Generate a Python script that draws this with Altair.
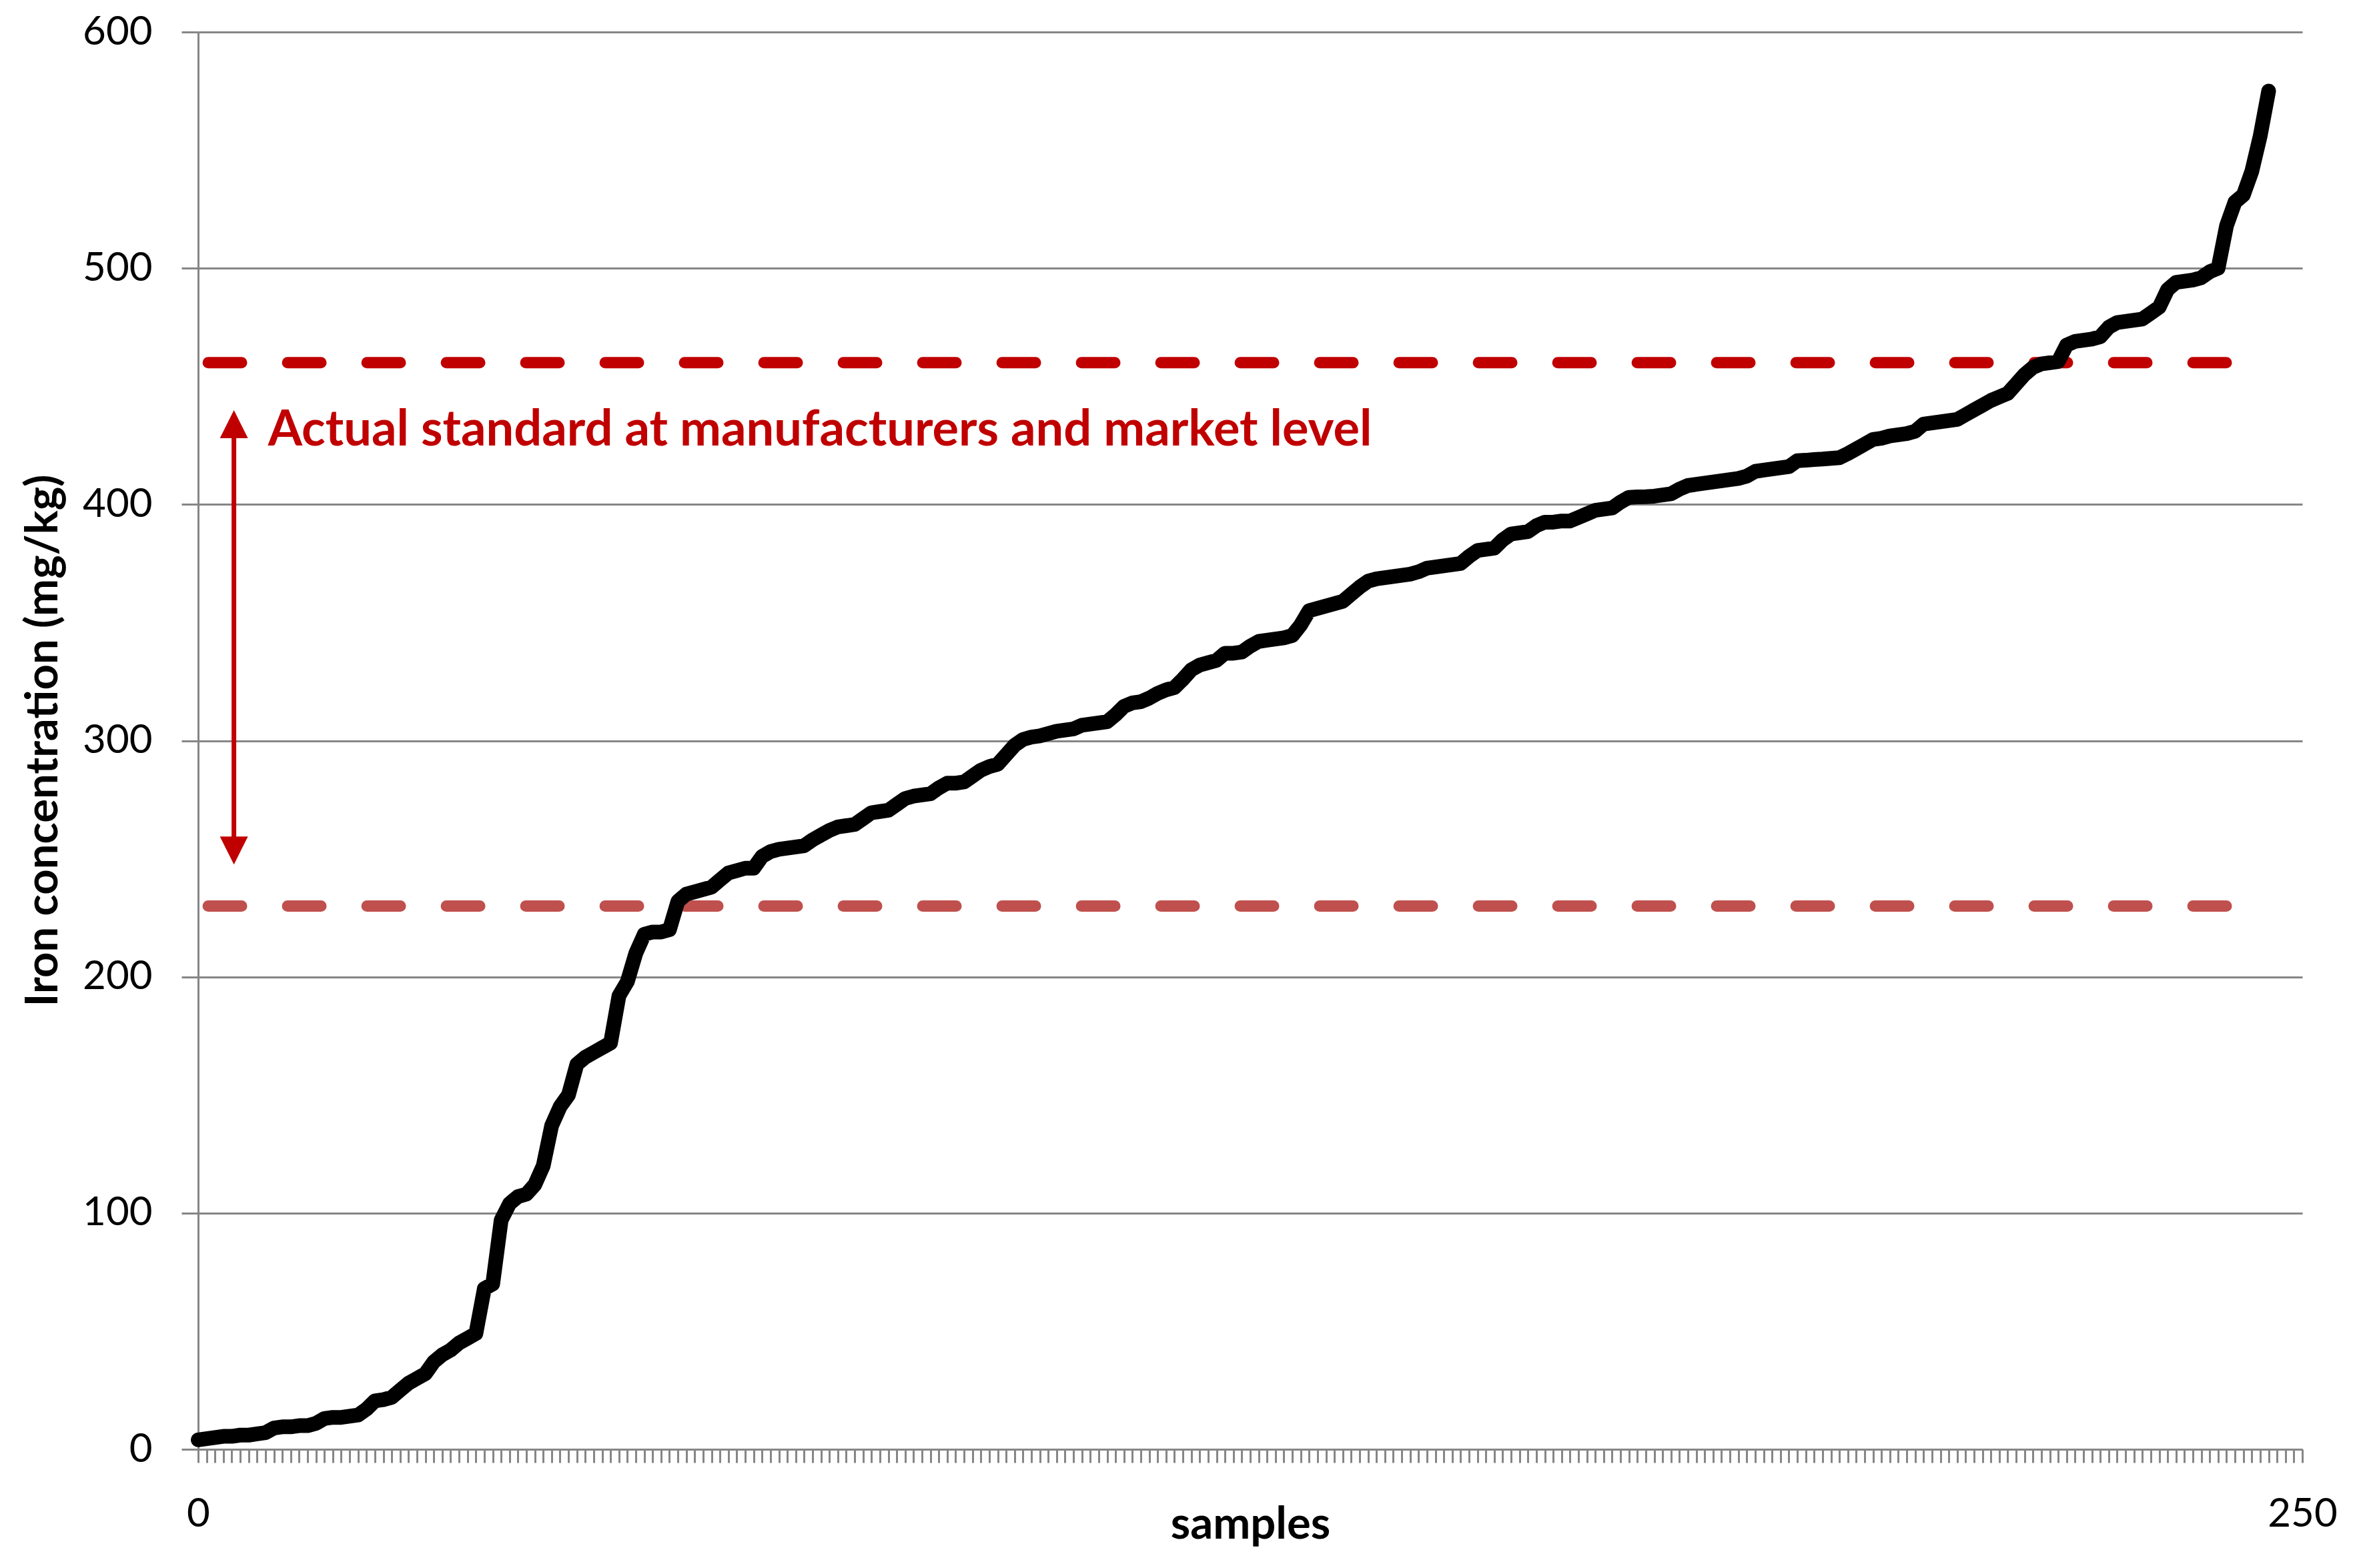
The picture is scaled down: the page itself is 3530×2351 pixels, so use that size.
import altair as alt
import pandas as pd

# ---- data ----
iron_values = [
    4, 4.5, 5, 5.5, 5.5, 6, 6, 6.5, 7, 9,
    9.5, 9.5, 10, 10, 11, 13, 13.5, 13.5, 14, 14.5,
    17, 20.5, 21, 22, 25, 28, 30, 32, 37, 40,
    42, 45, 47, 49, 68, 70, 97, 104, 107, 108,
    112, 120, 137, 145, 150, 163, 166, 168, 170, 172,
    192, 198, 210, 218, 219, 219, 220, 232, 235, 236,
    237, 238, 241, 244, 245, 246, 246, 251, 253, 254,
    254.5, 255, 255.5, 258, 260, 262, 263.5, 264, 264.5, 267,
    269.5, 270, 270.5, 273, 275.5, 276.5, 277, 277.5, 280, 282,
    282, 282.5, 285, 287.5, 289, 290, 294, 298, 300.5, 301.5,
    302, 303, 304, 304.5, 305, 306.5, 307, 307.5, 308, 311,
    314.5, 316, 316.5, 318, 320, 321.5, 322.5, 326, 330, 332,
    333, 334, 337, 337, 337.5, 340, 342, 342.5, 343, 343.5,
    344.5, 349, 355, 356, 357, 358, 359, 362, 365, 367.5,
    368.5, 369, 369.5, 370, 370.5, 371.5, 373, 373.5, 374, 374.5,
    375, 378, 380.5, 381, 381.5, 385, 387.5, 388, 388.5, 391,
    392.5, 392.5, 393, 393, 394.5, 396, 397.5, 398, 398.5, 401,
    403, 403.2, 403.3, 403.5, 404, 404.5, 406.5, 408, 408.5, 409,
    409.5, 410, 410.5, 411, 412, 414, 414.5, 415, 415.5, 416,
    418.5, 418.7, 419, 419.2, 419.5, 419.8, 421.5, 423.5, 425.5, 427.5,
    428, 429, 429.5, 430, 431, 434, 434.5, 435, 435.5, 436,
    438, 440, 442, 444, 445.5, 447, 451, 455, 458, 459.5,
    460, 460.5, 467.5, 469, 469.5, 470, 471, 475, 477, 477.5,
    478, 478.5, 481, 483.5, 491, 494, 494.5, 495, 496, 498.5,
    500, 518, 528, 531, 541, 556, 575,
]
sample_index = list(range(len(iron_values)))

standard_levels = [460, 230]
standard_colors = ["#C00000", "#C0504D"]
standard_x_start = [0.6, 0.6]
standard_x_end = [243, 243]

arrow_x = [4.25]
arrow_head_y = [434, 253.5]
arrow_head_shape = ["M0,-1L1,1L-1,1Z", "M0,1L1,-1L-1,-1Z"]

annotation_text = ["Actual standard at manufacturers and market level"]
annotation_x = [8.3]
annotation_y = [425]

x_tick_values = list(range(0, 251))
y_tick_values = [0, 100, 200, 300, 400, 500, 600]

RED = "#C00000"
GRAY = "#868686"
FONT = "Lato"

# ---- tables ----
curve_df = pd.DataFrame({"sample": sample_index, "iron": iron_values})
std_df = pd.DataFrame({"level": standard_levels, "color": standard_colors,
                       "x0": standard_x_start, "x1": standard_x_end})
arrow_df = pd.DataFrame({"x": arrow_x * 2, "y": arrow_head_y, "shape": arrow_head_shape})
arrow_line_df = pd.DataFrame({"x": arrow_x, "y0": [min(arrow_head_y)], "y1": [max(arrow_head_y)]})
text_df = pd.DataFrame({"x": annotation_x, "y": annotation_y, "t": annotation_text})

x_scale = alt.Scale(domain=[0, 250], nice=False, zero=False)
y_scale = alt.Scale(domain=[0, 600], nice=False)

x_axis = alt.Axis(
    values=x_tick_values, tickCount=400, format="d",
    labelExpr="(datum.value == 0 || datum.value == 250) ? datum.label : ''",
    grid=False, tickSize=20, tickWidth=3, tickColor=GRAY,
    domainColor=GRAY, domainWidth=3,
    labelFont=FONT, labelFontSize=60, labelColor="#000000",
    labelPadding=95, labelBaseline="alphabetic", labelFlush=False, labelOverlap=False,
    title="samples", titleFont=FONT, titleFontSize=67, titleFontWeight="bold",
    titleColor="#000000", titleY=133, titleBaseline="alphabetic",
)
y_axis = alt.Axis(
    values=y_tick_values, grid=True, gridColor=GRAY, gridWidth=3,
    tickSize=25, tickWidth=3, tickColor=GRAY, format="d",
    domainColor=GRAY, domainWidth=3,
    labelFont=FONT, labelFontSize=60, labelColor="#000000", labelPadding=44,
    title="Iron concentration (mg/kg)", titleFont=FONT, titleFontSize=67,
    titleFontWeight="bold", titleColor="#000000",
    titleX=-212, titleY=1062, titleBaseline="alphabetic",
)

curve = alt.Chart(curve_df).mark_line(
    color="#000000", strokeWidth=22, strokeJoin="round", strokeCap="round"
).encode(
    x=alt.X("sample:Q", scale=x_scale, axis=x_axis),
    y=alt.Y("iron:Q", scale=y_scale, axis=y_axis),
)

standards = alt.Chart(std_df).mark_rule(
    strokeWidth=17, strokeDash=[50, 69], strokeCap="round", strokeDashOffset=111.5
).encode(
    x=alt.X("x0:Q", scale=x_scale),
    x2="x1:Q",
    y=alt.Y("level:Q", scale=y_scale),
    color=alt.Color("color:N", scale=None),
)

arrow_line = alt.Chart(arrow_line_df).mark_rule(color=RED, strokeWidth=7).encode(
    x=alt.X("x:Q", scale=x_scale),
    y=alt.Y("y0:Q", scale=y_scale),
    y2="y1:Q",
)

arrow_heads = alt.Chart(arrow_df).mark_point(
    filled=True, color=RED, size=1764, opacity=1, strokeWidth=0
).encode(
    x=alt.X("x:Q", scale=x_scale),
    y=alt.Y("y:Q", scale=y_scale),
    shape=alt.Shape("shape:N", scale=None),
)

label = alt.Chart(text_df).mark_text(
    align="left", baseline="alphabetic", font=FONT, fontSize=74,
    fontWeight="bold", color=RED
).encode(
    x=alt.X("x:Q", scale=x_scale),
    y=alt.Y("y:Q", scale=y_scale),
    text="t:N",
)

chart = alt.layer(standards, curve, arrow_line, arrow_heads, label).properties(
    width=3154, height=2125,
    autosize=alt.AutoSizeParams(type="none"),
    padding={"left": 289, "top": 40, "right": 71, "bottom": 170},
    background="#ffffff",
).configure_view(stroke=None)

chart.save("out.html", embed_options={"renderer": "svg", "actions": False})
